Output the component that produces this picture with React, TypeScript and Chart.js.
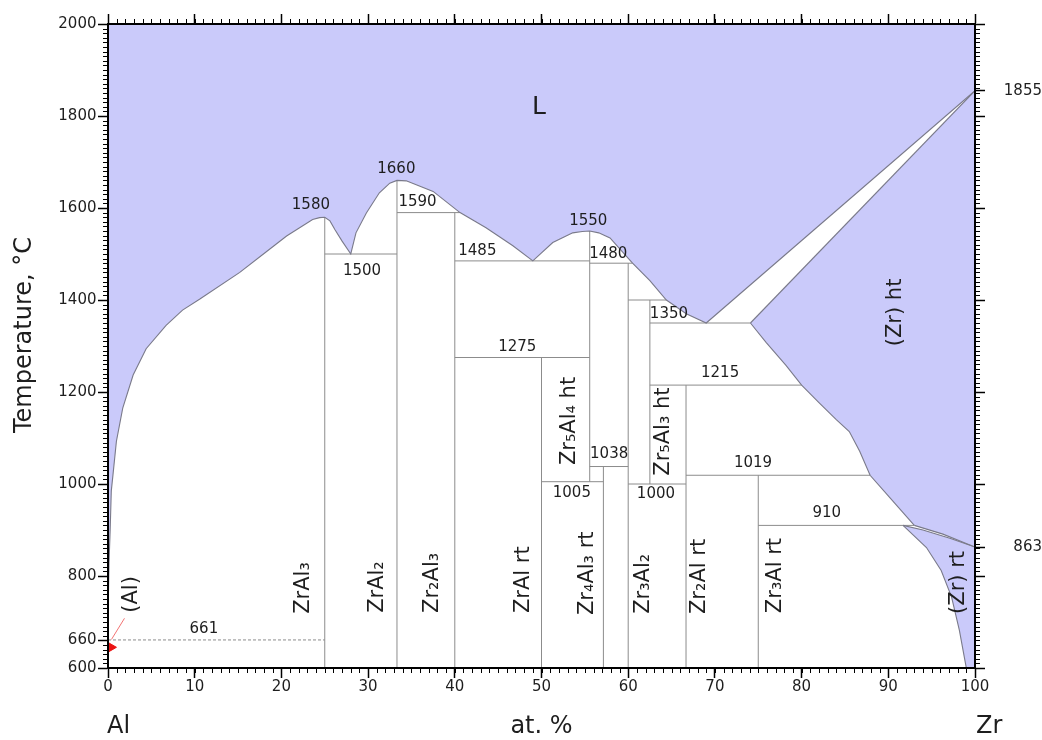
import React, { useEffect, useRef } from 'react';
import { Chart, registerables } from 'chart.js';

Chart.register(...registerables);

const FONT_FAMILY = '"DejaVu Sans", "Liberation Sans", Arial, sans-serif';
const INK = '#1e1e1e';
const PHASE_FILL = 'rgb(202, 202, 250)';
const BOUNDARY = '#7a7a8a';
const TIE_LINE = '#8c8c8c';

// ---- axes: composition (at.% Zr) and temperature (°C) ----
const X_MIN = 0;
const X_MAX = 100;
const T_MIN = 600;
const T_MAX = 2000;
const xMajorTicks = [0, 10, 20, 30, 40, 50, 60, 70, 80, 90, 100];
const tMajorTicks = [600, 660, 800, 1000, 1200, 1400, 1600, 1800, 2000];
const X_MINOR_STEP = 1;
const T_MINOR_STEP = 10;

// ---- invariant temperatures, °C ----
const T_AL_MELT = 660;
const T_AL_PERITECTIC = 661;
const T_ZRAL3 = 1580;
const T_ZRAL2 = 1660;
const T_ZR5AL4 = 1550;
const T_ZR_MELT = 1855;
const T_ZR_TRANSFORM = 863;

const tRightTicks = [600, 800, T_ZR_TRANSFORM, 1000, 1200, 1400, 1600, 1800, T_ZR_MELT, 2000];
const rightTickLabels = [T_ZR_TRANSFORM, T_ZR_MELT];

// ---- liquidus, from pure Al to pure Zr ----
const liquidusX = [
  0, 0.05, 0.12, 0.25, 0.38, 0.58, 0.97, 1.7, 2.9, 4.4,
  6.7, 8.6, 10.6, 15.2, 18, 20.6, 23.6, 24.4, 25, 25.6,
  26.2, 27, 28, 28.6, 29.8, 31.3, 32.5, 33.33, 34.4, 37.5,
  40.6, 43.6, 46.7, 49, 51.3, 53.6, 54.7, 55.56, 56.6, 57.9,
  60.5, 62.5, 64.4, 66.7, 69, 100,
];
const liquidusT = [
  T_AL_MELT, 760, 830, 900, 985, 1021, 1093, 1165, 1237, 1294,
  1345, 1378, 1402, 1460, 1501, 1539, 1575, 1579, T_ZRAL3, 1572,
  1552, 1528, 1500, 1546, 1589, 1633, 1654, T_ZRAL2, 1659, 1636,
  1590, 1557, 1518, 1485, 1525, 1546, 1549, T_ZR5AL4, 1546, 1535,
  1480, 1442, 1400, 1370, 1350, T_ZR_MELT,
];

// ---- (Zr) high-temperature solid solution ----
const zrSolidusX = [74.1, 100];
const zrSolidusT = [1350, T_ZR_MELT];
const zrHtSolvusX = [74.1, 75.9, 78.2, 80, 82, 84, 85.5, 86.7, 87.9, 90.2, 93];
const zrHtSolvusT = [1350, 1308, 1258, 1215, 1177, 1140, 1114, 1071, 1019, 970, 910];
const zrHtLowerX = [93, 96.3, 100];
const zrHtLowerT = [910, 891, T_ZR_TRANSFORM];

// ---- (Zr) low-temperature solid solution ----
const zrRtUpperX = [91.7, 94, 97.1, 100];
const zrRtUpperT = [910, 900, 882, T_ZR_TRANSFORM];
const zrRtSolvusX = [91.7, 94.4, 96.1, 97.3, 98.2, 98.9, 99.0];
const zrRtSolvusT = [910, 862, 812, 754, 682, 610, 600];

// ---- intermetallic compounds (vertical lines) ----
const compoundX = [25, 33.33, 40, 50, 55.56, 57.14, 60, 62.5, 66.67, 75];
const compoundTop = [T_ZRAL3, T_ZRAL2, 1590, 1275, T_ZR5AL4, 1038, 1480, 1400, 1215, 1019];
const compoundBottom = [600, 600, 600, 600, 1005, 600, 600, 1000, 600, 600];

// ---- invariant reaction isotherms ----
const isothermT = [T_AL_PERITECTIC, 1500, 1590, 1485, 1480, 1275, 1038, 1005, 1400, 1350, 1215, 1000, 1019, 910];
const isothermFrom = [0, 25, 33.33, 40, 55.56, 40, 55.56, 50, 60, 62.5, 62.5, 60, 66.67, 75];
const isothermTo = [25, 33.33, 40.6, 55.56, 60.5, 55.56, 60, 57.14, 64.4, 74.1, 80, 66.67, 87.9, 93];

// ---- text placement (centre of each text, in axis units) ----
const isothermLabelAt: Array<[number, number] | null> = [
  [11.06, 684], [29.3, 1463], [35.7, 1612], [42.6, 1507], [57.7, 1499], [47.2, 1298],
  [57.8, 1065], [53.5, 981], null, [64.7, 1369], [70.6, 1242], [63.2, 977], [74.4, 1046], [82.9, 936],
];
const peakLabelValues = [T_ZRAL3, T_ZRAL2, T_ZR5AL4];
const peakLabelAt: Array<[number, number]> = [[23.4, 1607], [33.26, 1685], [55.4, 1571]];

const phaseNames = [
  'ZrAl₃', 'ZrAl₂', 'Zr₂Al₃', 'ZrAl rt', 'Zr₄Al₃ rt', 'Zr₃Al₂', 'Zr₂Al rt', 'Zr₃Al rt',
  '(Zr) rt', '(Zr) ht', 'Zr₅Al₄ ht', 'Zr₅Al₃ ht', '(Al)',
];
const phaseNameAt: Array<[number, number]> = [
  [22.5, 774], [31.05, 776], [37.4, 785], [47.9, 792], [55.3, 806], [61.8, 783], [68.25, 799], [77.0, 801],
  [98.1, 786], [90.8, 1373], [53.2, 1137], [64.1, 1114], [2.75, 760],
];
const liquidLabelAt: [number, number] = [49.7, 1818];

// (Al) solid solution marker and its leader line
const alMarker = { x: 0.4, y: 645 };
const alLeader = [{ x: 0.4, y: 662 }, { x: 1.9, y: 708 }];

type P = { x: number; y: number };
const pts = (xs: number[], ts: number[]): P[] => xs.map((x, i) => ({ x, y: ts[i] }));

const liquidRegion: P[] = [...pts(liquidusX, liquidusT), { x: X_MAX, y: T_MAX }, { x: X_MIN, y: T_MAX }];
const zrHtRegion: P[] = [
  ...pts(zrSolidusX, zrSolidusT),
  ...pts(zrHtLowerX, zrHtLowerT).reverse(),
  ...pts(zrHtSolvusX, zrHtSolvusT).reverse(),
];
const zrRtRegion: P[] = [
  ...pts(zrRtUpperX, zrRtUpperT),
  { x: X_MAX, y: T_MIN },
  ...pts(zrRtSolvusX, zrRtSolvusT).reverse(),
];

const fillSet = (data: P[]) => ({
  data,
  showLine: true,
  fill: 'shape',
  backgroundColor: PHASE_FILL,
  borderColor: 'transparent',
  borderWidth: 0,
  pointRadius: 0,
  tension: 0,
  order: 3,
});

const lineSet = (data: P[], color: string, width: number, dash: number[], order: number) => ({
  data,
  showLine: true,
  fill: false,
  borderColor: color,
  borderWidth: width,
  borderDash: dash,
  pointRadius: 0,
  tension: 0,
  order,
});

const MINOR_LEN = 5;
const MAJOR_LEN = 10;

const minorTickPlugin = {
  id: 'minorTicks',
  afterDraw(chart: any) {
    const { ctx, chartArea: a } = chart;
    const xs = chart.scales.x;
    const ys = chart.scales.y;
    ctx.save();
    ctx.strokeStyle = '#000';
    ctx.lineWidth = 1;
    ctx.beginPath();
    for (let v = X_MIN; v <= X_MAX + 1e-9; v += X_MINOR_STEP) {
      const p = Math.round(xs.getPixelForValue(v)) + 0.5;
      ctx.moveTo(p, a.bottom);
      ctx.lineTo(p, a.bottom + MINOR_LEN);
      ctx.moveTo(p, a.top);
      ctx.lineTo(p, a.top - MINOR_LEN);
    }
    for (let t = T_MIN; t <= T_MAX + 1e-9; t += T_MINOR_STEP) {
      const p = Math.round(ys.getPixelForValue(t)) + 0.5;
      ctx.moveTo(a.left, p);
      ctx.lineTo(a.left - MINOR_LEN, p);
      ctx.moveTo(a.right, p);
      ctx.lineTo(a.right + MINOR_LEN, p);
    }
    ctx.stroke();
    ctx.restore();
  },
};

const textPlugin = {
  id: 'diagramText',
  afterDraw(chart: any) {
    const { ctx, chartArea: a } = chart;
    const xs = chart.scales.x;
    const ys = chart.scales.y;
    const put = (text: string, px: number, py: number, size: number, vertical: boolean) => {
      ctx.save();
      ctx.translate(px, py);
      if (vertical) ctx.rotate(-Math.PI / 2);
      ctx.font = `${size}px ${FONT_FAMILY}`;
      ctx.fillStyle = INK;
      ctx.textAlign = 'center';
      ctx.textBaseline = 'middle';
      ctx.fillText(text, 0, 0);
      ctx.restore();
    };
    const at = (x: number, t: number) => [xs.getPixelForValue(x), ys.getPixelForValue(t)];

    isothermT.forEach((t, i) => {
      const pos = isothermLabelAt[i];
      if (!pos) return;
      const [px, py] = at(pos[0], pos[1]);
      put(String(t), px, py, 15, false);
    });
    peakLabelValues.forEach((t, i) => {
      const [px, py] = at(peakLabelAt[i][0], peakLabelAt[i][1]);
      put(String(t), px, py, 15, false);
    });
    phaseNames.forEach((name, i) => {
      const [px, py] = at(phaseNameAt[i][0], phaseNameAt[i][1]);
      put(name, px, py, 21, true);
    });
    const [lx, ly] = at(liquidLabelAt[0], liquidLabelAt[1]);
    put('L', lx, ly, 25, false);

    // axis captions
    put('Temperature, °C', a.left - 83, a.top + 311, 24, false ? false : true);
    ctx.save();
    ctx.font = `24px ${FONT_FAMILY}`;
    ctx.fillStyle = INK;
    ctx.textBaseline = 'alphabetic';
    const base = a.bottom + 65;
    ctx.textAlign = 'left';
    ctx.fillText('Al', xs.getPixelForValue(X_MIN) - 1, base);
    ctx.fillText('Zr', xs.getPixelForValue(X_MAX) + 1, base);
    ctx.textAlign = 'center';
    ctx.fillText('at. %', xs.getPixelForValue((X_MIN + X_MAX) / 2), base);
    ctx.restore();
  },
};

const tickFont = { family: FONT_FAMILY, size: 15 };

const axisCommon = {
  type: 'linear' as const,
  grid: {
    drawOnChartArea: false,
    drawTicks: true,
    tickLength: MAJOR_LEN,
    tickColor: '#000',
    tickWidth: 1.5,
  },
  border: { display: true, color: '#000', width: 2, z: 1 },
};

export default function App() {
  const canvasRef = useRef<HTMLCanvasElement | null>(null);

  useEffect(() => {
    if (!canvasRef.current) return;

    const datasets: any[] = [
      fillSet(liquidRegion),
      fillSet(zrHtRegion),
      fillSet(zrRtRegion),
      ...compoundX.map((x, i) =>
        lineSet([{ x, y: compoundBottom[i] }, { x, y: compoundTop[i] }], TIE_LINE, 1, [], 2)
      ),
      ...isothermT.map((t, i) =>
        lineSet(
          [{ x: isothermFrom[i], y: t }, { x: isothermTo[i], y: t }],
          TIE_LINE,
          1,
          t === T_AL_PERITECTIC ? [3, 2] : [],
          2
        )
      ),
      lineSet(pts(liquidusX, liquidusT), BOUNDARY, 1.1, [], 1),
      lineSet(pts(zrSolidusX, zrSolidusT), BOUNDARY, 1.1, [], 1),
      lineSet(pts(zrHtSolvusX, zrHtSolvusT), BOUNDARY, 1.1, [], 1),
      lineSet(pts(zrHtLowerX, zrHtLowerT), BOUNDARY, 1.1, [], 1),
      lineSet(pts(zrRtUpperX, zrRtUpperT), BOUNDARY, 1.1, [], 1),
      lineSet(pts(zrRtSolvusX, zrRtSolvusT), BOUNDARY, 1.1, [], 1),
      lineSet(alLeader, 'rgba(240, 90, 90, 0.85)', 1, [], 0),
      {
        data: [alMarker],
        showLine: false,
        pointStyle: 'triangle',
        rotation: 90,
        pointRadius: 5,
        backgroundColor: 'rgb(235, 20, 20)',
        borderColor: 'rgb(235, 20, 20)',
        order: 0,
      },
    ];

    const chart = new Chart(canvasRef.current, {
      type: 'scatter',
      data: { datasets },
      options: {
        animation: false,
        responsive: true,
        maintainAspectRatio: false,
        events: [],
        layout: { padding: 0 },
        plugins: {
          legend: { display: false },
          tooltip: { enabled: false },
        },
        scales: {
          x: {
            ...axisCommon,
            position: 'bottom',
            min: X_MIN,
            max: X_MAX,
            afterBuildTicks: (s: any) => {
              s.ticks = xMajorTicks.map((value) => ({ value }));
            },
            afterFit: (s: any) => {
              s.height = 72;
            },
            ticks: {
              font: tickFont,
              color: INK,
              padding: 0,
              autoSkip: false,
              maxRotation: 0,
              minRotation: 0,
              callback: (v: any) => String(v),
            },
          },
          x2: {
            ...axisCommon,
            position: 'top',
            min: X_MIN,
            max: X_MAX,
            afterBuildTicks: (s: any) => {
              s.ticks = xMajorTicks.map((value) => ({ value }));
            },
            afterFit: (s: any) => {
              s.height = 20;
            },
            ticks: { display: false },
          },
          y: {
            ...axisCommon,
            position: 'left',
            min: T_MIN,
            max: T_MAX,
            afterBuildTicks: (s: any) => {
              s.ticks = tMajorTicks.map((value) => ({ value }));
            },
            afterFit: (s: any) => {
              s.width = 108;
            },
            ticks: {
              font: tickFont,
              color: INK,
              padding: 1.5,
              autoSkip: false,
              callback: (v: any) => String(v),
            },
          },
          y2: {
            ...axisCommon,
            position: 'right',
            min: T_MIN,
            max: T_MAX,
            afterBuildTicks: (s: any) => {
              s.ticks = tRightTicks.map((value) => ({ value }));
            },
            afterFit: (s: any) => {
              s.width = 67;
            },
            ticks: {
              font: tickFont,
              color: INK,
              padding: 15,
              crossAlign: 'far',
              autoSkip: false,
              callback: (v: any) => (rightTickLabels.includes(Number(v)) ? String(v) : ''),
            },
          },
        },
      } as any,
      plugins: [minorTickPlugin, textPlugin],
    });

    return () => chart.destroy();
  }, []);

  return (
    <div style={{ position: 'fixed', left: 0, top: 0, width: 1042, height: 740, background: '#fff' }}>
      <canvas ref={canvasRef} />
    </div>
  );
}
